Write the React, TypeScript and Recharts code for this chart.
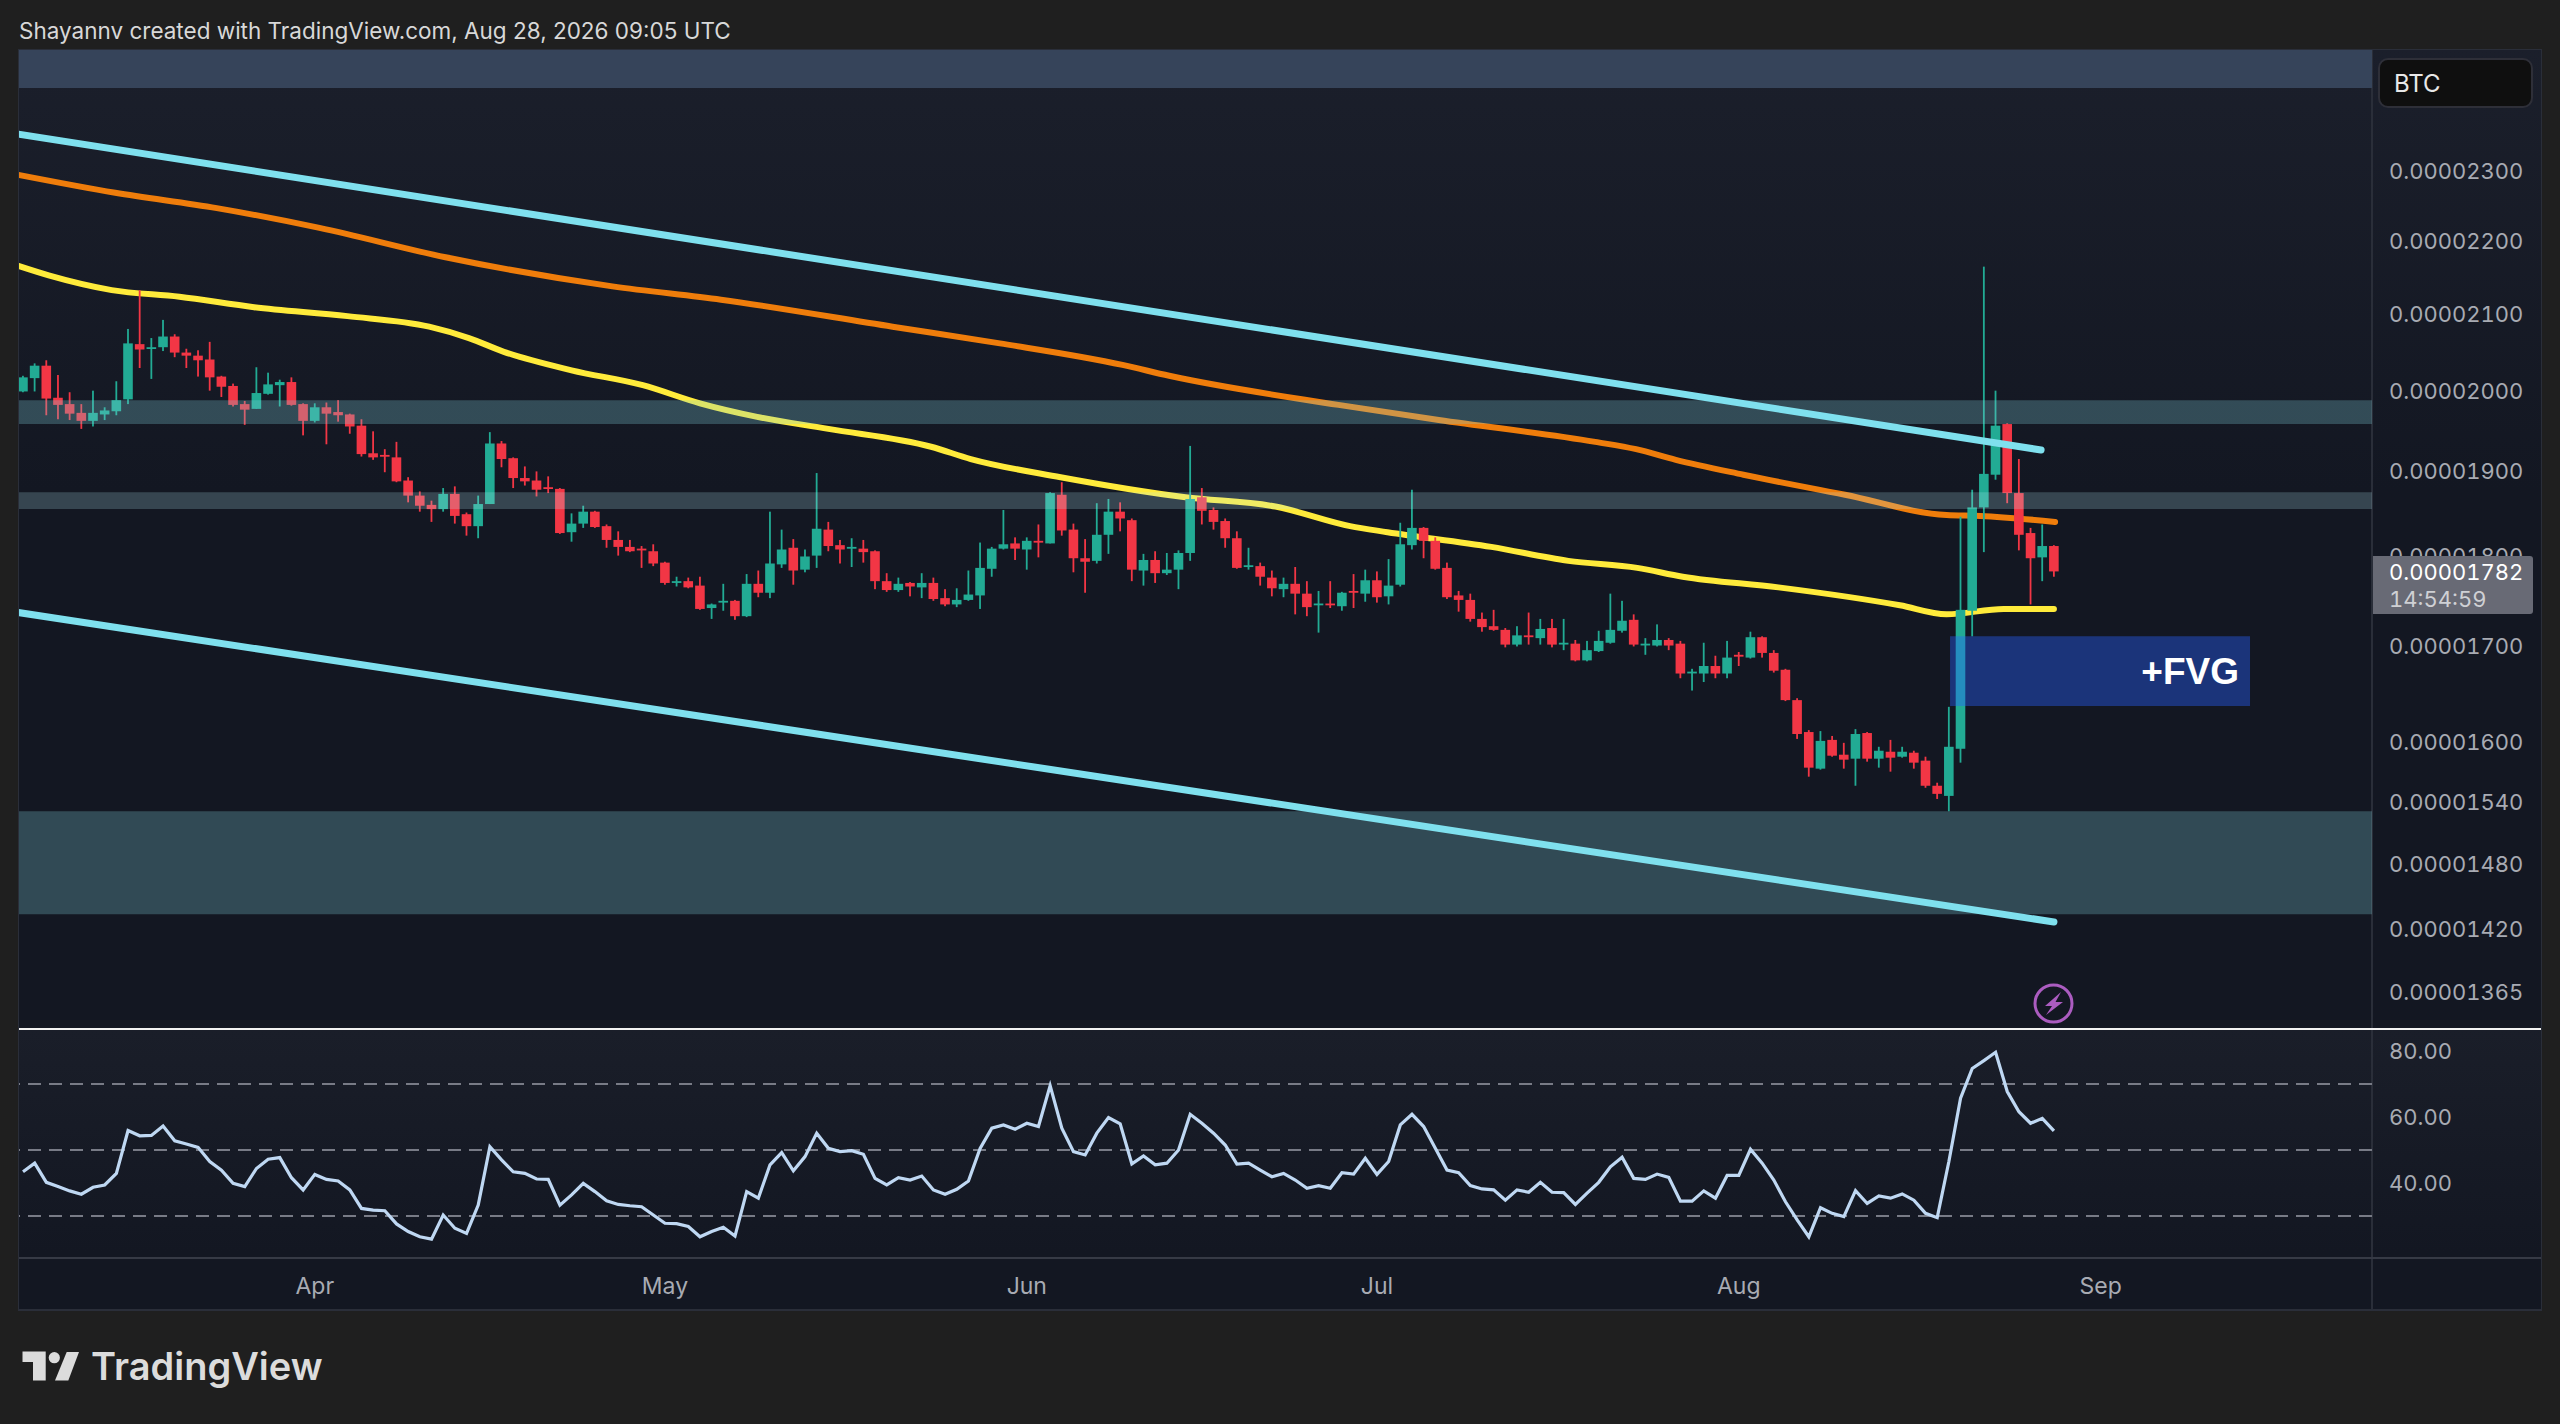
import React from 'react';
import { ComposedChart, Bar, Line, XAxis, YAxis, ReferenceArea, ReferenceLine } from 'recharts';

// Prices are in units of 0.00000001 BTC
const opens = [1998,2015,2031,1990,1982,1971,1961,1969,1973,1988,
2059,2054,2055,2069,2048,2044,2039,2017,2005,1982,
1976,1995,2006,2010,1982,1961,1978,1972,1969,1955,
1921,1919,1916,1888,1870,1859,1854,1872,1848,1834,
1860,1933,1915,1891,1888,1880,1878,1827,1837,1851,
1834,1818,1810,1808,1805,1792,1770,1771,1766,1741,
1747,1749,1732,1768,1758,1790,1809,1784,1800,1830,
1812,1809,1808,1805,1771,1761,1769,1764,1769,1752,
1745,1750,1755,1785,1808,1814,1807,1817,1814,1871,
1830,1797,1794,1824,1851,1841,1783,1795,1780,1784,
1803,1868,1853,1840,1820,1788,1788,1775,1762,1768,
1757,1745,1746,1743,1760,1757,1772,1754,1767,1812,
1832,1817,1786,1755,1750,1729,1721,1717,1701,1711,
1708,1719,1702,1702,1684,1694,1703,1716,1728,1701,
1700,1706,1702,1671,1670,1678,1670,1690,1687,1709,
1692,1674,1642,1609,1572,1601,1586,1582,1608,1582,
1589,1584,1588,1580,1555,1545,1592,1738,1856,1895,
1957,1873,1826,1798,1811];
const highs = [2018,2034,2038,2019,1997,1982,1999,1978,2011,2079,
2131,2067,2091,2072,2053,2051,2062,2018,2008,1986,
2029,2022,2013,2016,1983,1983,1984,1987,1970,1963,
1948,1926,1935,1892,1875,1864,1879,1881,1850,1870,
1947,1936,1916,1905,1899,1893,1879,1849,1858,1852,
1836,1828,1818,1811,1813,1793,1776,1775,1776,1746,
1768,1750,1779,1783,1851,1830,1819,1807,1897,1839,
1818,1820,1818,1806,1780,1775,1770,1780,1775,1762,
1763,1783,1815,1810,1853,1821,1821,1836,1874,1886,
1837,1819,1861,1866,1862,1843,1802,1805,1803,1806,
1930,1879,1856,1843,1828,1809,1792,1783,1775,1787,
1771,1760,1771,1759,1779,1784,1782,1796,1838,1877,
1833,1821,1792,1760,1757,1736,1739,1719,1721,1736,
1729,1729,1729,1706,1705,1716,1757,1749,1734,1708,
1723,1708,1705,1675,1703,1689,1705,1693,1715,1710,
1695,1675,1644,1611,1610,1605,1598,1612,1609,1594,
1601,1594,1590,1584,1558,1635,1845,1877,2163,1999,
1958,1914,1832,1836,1812];
const lows = [1997,1998,1968,1963,1962,1951,1954,1962,1968,1982,
2028,2014,2050,2042,2028,2017,1999,1991,1979,1956,
1976,1994,1979,1980,1943,1959,1932,1960,1945,1917,
1913,1898,1886,1862,1851,1839,1851,1837,1823,1820,
1860,1904,1879,1882,1869,1873,1825,1816,1832,1832,
1809,1800,1804,1786,1788,1767,1765,1763,1739,1729,
1738,1728,1731,1753,1752,1786,1767,1781,1786,1805,
1791,1787,1792,1762,1759,1759,1754,1752,1749,1743,
1742,1749,1740,1776,1807,1795,1784,1798,1814,1823,
1781,1758,1791,1802,1828,1771,1766,1769,1778,1762,
1794,1836,1830,1809,1785,1784,1766,1754,1753,1734,
1732,1714,1741,1738,1741,1748,1747,1745,1765,1807,
1797,1784,1751,1737,1726,1715,1716,1698,1699,1701,
1701,1698,1695,1683,1683,1693,1702,1714,1699,1690,
1699,1695,1665,1652,1661,1665,1665,1678,1686,1687,
1671,1641,1602,1564,1571,1584,1572,1555,1579,1573,
1569,1583,1572,1553,1542,1530,1578,1710,1804,1889,
1861,1806,1745,1771,1776];
const closes = [2016,2031,1989,1981,1970,1961,1971,1974,1987,2060,
2052,2055,2069,2048,2044,2038,2016,2004,1981,1975,
1996,2007,2010,1981,1961,1978,1970,1968,1954,1920,
1916,1918,1887,1870,1858,1854,1872,1846,1834,1860,
1933,1914,1891,1887,1877,1878,1826,1837,1851,1833,
1818,1810,1805,1807,1791,1769,1771,1764,1740,1745,
1749,1732,1768,1758,1791,1807,1783,1799,1831,1811,
1807,1810,1804,1771,1761,1768,1765,1769,1751,1745,
1750,1756,1786,1808,1813,1808,1817,1816,1873,1829,
1797,1793,1824,1851,1843,1784,1795,1780,1784,1803,
1866,1852,1839,1820,1786,1789,1776,1763,1768,1757,
1742,1746,1744,1758,1758,1772,1753,1766,1813,1832,
1817,1785,1753,1750,1729,1720,1717,1701,1711,1710,
1718,1701,1703,1684,1695,1705,1717,1727,1701,1702,
1706,1700,1670,1672,1678,1670,1687,1688,1709,1692,
1673,1642,1607,1573,1600,1585,1581,1607,1582,1590,
1583,1589,1578,1555,1547,1594,1739,1856,1896,1955,
1873,1824,1797,1811,1782];

const rsiValues = [43.4,46.0,40.2,38.9,37.6,36.6,38.7,39.4,42.9,55.9,
54.3,54.4,57.3,52.8,51.8,50.8,46.5,43.9,39.9,38.9,
44.4,47.2,47.7,41.6,37.9,42.6,41.1,40.6,37.9,32.3,
31.8,31.6,27.6,25.3,23.7,23.0,30.3,26.3,24.7,33.3,
51.0,47.0,43.4,42.9,41.2,41.1,33.3,36.4,39.9,37.4,
34.6,33.5,33.1,32.8,30.3,27.8,27.7,26.8,23.7,25.3,
26.6,23.9,37.4,35.4,45.5,49.2,43.7,48.0,55.1,50.5,
49.5,49.8,48.7,41.4,39.4,41.6,40.9,42.1,37.9,36.6,
38.1,40.6,50.5,56.6,
57.6,56.3,58.1,57.1,69.5,56.6,49.5,48.5,55.1,59.8,
57.9,45.8,48.2,45.5,46.0,50.0,60.8,58.1,55.1,51.5,
45.7,46.0,43.9,41.9,42.9,40.9,38.4,39.2,38.4,43.1,
42.7,47.5,42.6,46.5,57.6,60.8,57.1,50.5,43.9,43.1,
39.2,38.2,37.9,34.8,37.9,37.2,40.2,37.2,37.1,33.5,
36.9,40.2,44.9,47.8,41.4,41.1,42.7,41.7,34.5,34.5,
37.6,35.4,42.3,42.3,50.2,46.0,40.9,34.3,28.8,23.7,
32.5,30.8,29.8,37.7,33.8,36.1,35.4,36.7,34.8,30.8,
29.5,46.5,65.7,74.7,77.1,79.6,67.7,61.6,58.1,59.6,55.8];

const yellowDays = [-0.4,2.2,7.6,13.4,19.8,27.8,34.8,38.2,41.2,47,53.1,58,62.9,69,77.8,81.2,88.9,99.6,107.3,113.7,116.9,125.8,132.4,138.3,142.2,150.4,160.8,164.8,169.7,174];
const yellowValues = [2164,2151,2131,2122,2108,2096,2082,2067,2049,2025,2006,1983,1966,1951,1929,1914,1892,1868,1857,1834,1827,1810,1794,1786,1776,1764,1744,1734,1740,1740];
const orangeDays = [-0.4,7.9,16.6,25.4,36.2,50.5,59.8,74.5,83.7,94.2,98.2,112.7,121.3,134.7,138.2,141.6,147.4,156.1,164.8,167.7,174.1];
const orangeValues = [2293,2267,2245,2217,2176,2136,2118,2082,2060,2032,2018,1981,1962,1935,1926,1913,1895,1871,1847,1846,1839];
const upperChannelDays = [-0.4,172.9];
const upperChannelValues = [2353,1925];
const lowerChannelDays = [-0.4,174];
const lowerChannelValues = [1736,1426];

const priceTicks = [2300,2200,2100,2000,1900,1800,1700,1600,1540,1480,1420,1365];
const rsiTicks = [40,60,80];
const rsiBands = [70,50,30];
const monthDays = [25,55,86,116,147,178];
const monthNames = ['Apr','May','Jun','Jul','Aug','Sep'];
const PRICE_DOMAIN = [1332.2,2482.4];
const DAY_DOMAIN = [-0.343,201.25];
const RSI_DOMAIN = [17.27,86.36];
const FONT = 'Inter, sans-serif';
const BODY_W = 9.6;

const candles = opens.map((o,i)=>({i,o,h:highs[i],l:lows[i],c:closes[i],range:[lows[i],highs[i]]}));
const rsiRows = rsiValues.map((rsi,i)=>({i,rsi}));
const toRows = (days:number[],values:number[]) => days.map((i,k)=>({i,v:values[k]}));

const UP='#22ab94', DOWN='#f23645';

const Candle = (p:any) => {
  const {x,y,width,height,payload:d} = p;
  const cx = x+width/2;
  const span = Math.log(d.h/d.l)||1;
  const at = (v:number)=> y+height*Math.log(d.h/v)/span;
  const top = at(Math.max(d.o,d.c));
  const bot = at(Math.min(d.o,d.c));
  const col = d.c>=d.o?UP:DOWN;
  return <g>
    <rect x={cx-0.9} y={y} width={1.8} height={height} fill={col}/>
    <rect x={cx-BODY_W/2} y={top} width={BODY_W} height={Math.max(bot-top,1.8)} fill={col}/>
  </g>;
};

const Box = ({l,t,w,h,style,children}:any)=>(
  <div style={{position:'absolute',left:l,top:t,width:w,height:h,...style}}>{children}</div>
);

export default function App(){
  const numTick = {fontFamily:FONT,fontSize:22,fill:'#a8abb3',style:{fontVariantNumeric:'tabular-nums'}};
  const monthTick = {fontFamily:FONT,fontSize:23,fill:'#a8abb3'};
  return (
    <div style={{position:'fixed',left:0,top:0,width:2560,height:1424,background:'#1f1f1f',overflow:'hidden',fontFamily:FONT}}>
      <div style={{position:'absolute',left:19,top:17,fontSize:22.5,lineHeight:'28px',color:'#d8d8d8',whiteSpace:'nowrap'}}>Shayannv created with TradingView.com, Aug 28, 2026 09:05 UTC</div>

      <Box l={18} t={49} w={2524} h={1262} style={{border:'0',background:'#2a2e39'}}/>
      <Box l={19} t={50} w={2522} h={979} style={{background:'linear-gradient(#1b1f2b,#131722 45%)'}}/>
      <Box l={19} t={1030} w={2522} h={279} style={{background:'linear-gradient(#1a1e29,#131722 80%)'}}/>
      <Box l={2371} t={50} w={2} h={1260} style={{background:'#2a2e39'}}/>
      <Box l={19} t={1257} w={2522} h={2} style={{background:'#363a45'}}/>

      <div style={{position:'absolute',left:0,top:0}}>
        <ComposedChart width={2560} height={1029} data={candles} margin={{top:50,left:19,right:19,bottom:0}}>
          <XAxis dataKey="i" type="number" domain={DAY_DOMAIN} allowDataOverflow hide/>
          <YAxis orientation="right" width={169} scale="log" domain={PRICE_DOMAIN} allowDataOverflow ticks={priceTicks} interval={0}
            axisLine={false} tickLine={false} tickSize={0} tickMargin={17} tick={{...numTick,dy:1}}
            tickFormatter={(v:number)=>(v/1e8).toFixed(8)}/>
          <Line data={toRows(yellowDays,yellowValues)} type="monotone" dataKey="v" stroke="#ffeb3b" strokeWidth={6} dot={false} isAnimationActive={false} zIndex={250} strokeLinecap="round"/>
          <Line data={toRows(orangeDays,orangeValues)} type="monotone" dataKey="v" stroke="#ef7d0b" strokeWidth={6} dot={false} isAnimationActive={false} zIndex={250} strokeLinecap="round"/>
          <Bar dataKey="range" barSize={9.6} shape={Candle} isAnimationActive={false} zIndex={300}/>
          <ReferenceArea y1={2423} y2={2482.4} fill="#36445a" fillOpacity={1} stroke="none" zIndex={350}/>
          <ReferenceArea y1={1957} y2={1987} fill="#80d0dc" fillOpacity={0.28} stroke="none" zIndex={350}/>
          <ReferenceArea y1={1854} y2={1874} fill="#b7eff6" fillOpacity={0.22} stroke="none" zIndex={350}/>
          <ReferenceArea y1={1433} y2={1530} fill="#80d0dc" fillOpacity={0.28} stroke="none" zIndex={350}/>
          <ReferenceArea x1={165.1} x2={190.8} y1={1636} y2={1710} fill="#2962ff" fillOpacity={0.4} stroke="none" zIndex={350}
            label={{value:'+FVG',position:'insideRight',offset:11,fill:'#ffffff',fontSize:37,fontWeight:700,fontFamily:'"Liberation Sans", sans-serif'}}/>
          <Line data={toRows(upperChannelDays,upperChannelValues)} dataKey="v" stroke="#7fe0ee" strokeWidth={7} dot={false} isAnimationActive={false} zIndex={400} strokeLinecap="round"/>
          <Line data={toRows(lowerChannelDays,lowerChannelValues)} dataKey="v" stroke="#7fe0ee" strokeWidth={7} dot={false} isAnimationActive={false} zIndex={400} strokeLinecap="round"/>
        </ComposedChart>
      </div>

      <Box l={19} t={1028} w={2522} h={2} style={{background:'#f2f2f2'}}/>

      <div style={{position:'absolute',left:0,top:1030}}>
        <ComposedChart width={2560} height={280} data={rsiRows} margin={{top:0,left:19,right:19,bottom:0}}>
          <XAxis dataKey="i" type="number" domain={DAY_DOMAIN} allowDataOverflow ticks={monthDays} interval={0} height={52}
            axisLine={false} tickLine={false} tickSize={0} tickMargin={20} tick={monthTick}
            tickFormatter={(v:number)=>monthNames[monthDays.indexOf(v)]}/>
          <YAxis orientation="right" width={169} domain={RSI_DOMAIN} allowDataOverflow ticks={rsiTicks} interval={0}
            axisLine={false} tickLine={false} tickSize={0} tickMargin={17} tick={numTick}
            tickFormatter={(v:number)=>v.toFixed(2)}/>
          {rsiBands.map(b=><ReferenceLine key={b} y={b} stroke="#787b86" strokeWidth={2} strokeDasharray="13 8"/>)}
          <Line dataKey="rsi" stroke="#bfd8f3" strokeWidth={3.2} dot={false} isAnimationActive={false}/>
        </ComposedChart>
      </div>

      <Box l={2378} t={58} w={155} h={50} style={{background:'#0f0f0f',border:'2px solid #2e2f38',borderRadius:10,boxSizing:'border-box'}}>
        <div style={{position:'absolute',left:14,top:9,fontSize:24,lineHeight:'29px',color:'#e8e8e8'}}>BTC</div>
      </Box>

      <Box l={2373} t={556} w={160} h={58} style={{background:'#686a75',borderRadius:'0 3px 3px 0',fontVariantNumeric:'tabular-nums'}}>
        <div style={{position:'absolute',left:16,top:2,fontSize:22,lineHeight:'28px',color:'#ffffff'}}>0.00001782</div>
        <div style={{position:'absolute',left:16,top:29,fontSize:22,lineHeight:'28px',color:'#cfd0d4'}}>14:54:59</div>
      </Box>

      <svg style={{position:'absolute',left:2030,top:980}} width={48} height={48} viewBox="0 0 48 48">
        <circle cx={23.5} cy={23.5} r={18.5} fill="none" stroke="#ab5cc0" strokeWidth={3}/>
        <path d="M31 12 L15 26 L22 26 L16 35 L33 22 L25.5 22 Z" fill="#ab5cc0"/>
      </svg>

      <svg style={{position:'absolute',left:20,top:1348}} width={64} height={38} viewBox="0 0 64 38">
        <path d="M2.5 3.5 H25.7 V32.5 H13 V14 H2.5 Z" fill="#dcdcdc"/>
        <circle cx={34.3} cy={9.7} r={5.6} fill="#dcdcdc"/>
        <path d="M46.7 4 H59 L48.3 32.5 H35 Z" fill="#dcdcdc"/>
      </svg>
      <div style={{position:'absolute',left:91,top:1343,fontSize:38,lineHeight:'46px',fontWeight:600,color:'#dcdcdc',whiteSpace:'nowrap'}}>TradingView</div>
    </div>
  );
}
